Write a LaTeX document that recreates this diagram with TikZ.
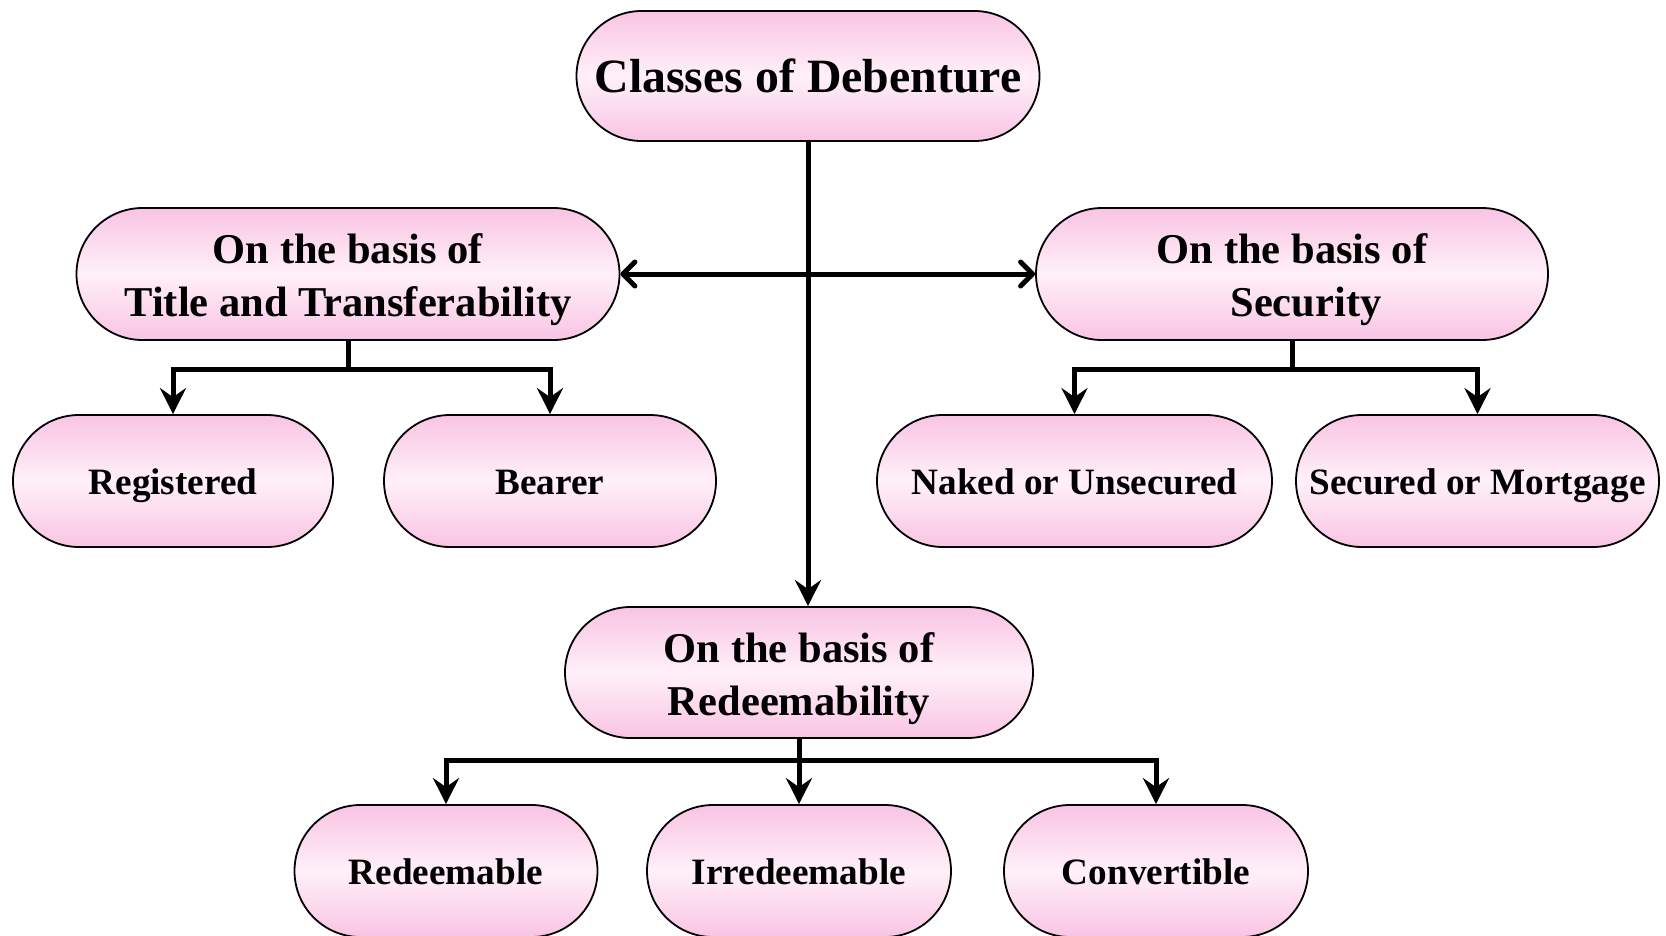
\documentclass[tikz,border=0pt]{standalone}
\usepackage{fontspec}
\setmainfont{Liberation Serif}
\usetikzlibrary{arrows.meta,shapes.misc,calc}
\definecolor{pinkE}{RGB}{249,196,228}
\definecolor{pinkM}{RGB}{255,240,248}
\newcommand{\toppad}{\rule{0pt}{42pt}}
\begin{document}
\begin{tikzpicture}[x=1pt,y=-1pt,
  box/.style={rounded rectangle, draw=black, line width=1.8pt,
    top color=pinkE, bottom color=pinkE, middle color=pinkM,
    inner sep=0pt, align=center, minimum height=132pt},
  lvlA/.style={font=\fontsize{47.8}{58}\selectfont\bfseries},
  lvlB/.style={font=\fontsize{42.5}{53}\selectfont\bfseries},
  lvlC/.style={font=\fontsize{37.2}{46}\selectfont\bfseries, text height=26pt, text depth=0pt},
  conn/.style={line width=5pt, line join=miter},
  dtip/.tip={Stealth[length=26pt,width=26pt,inset=9pt]},
  btip/.tip={Straight Barb[length=12pt,width=24pt,line cap=round,line join=round]}
]
\useasboundingbox (0,0) rectangle (1666,935);
\fill[white] (0,0) rectangle (1666,935);

\node[box,lvlA,minimum width=463pt,minimum height=130pt] (top) at (808,76) {Classes of Debenture};
\node[box,lvlB,minimum width=543pt] (title) at (348,274) {\toppad On the basis of\\Title and Transferability};
\node[box,lvlB,minimum width=512pt] (sec) at (1292,274) {\toppad On the basis of\\\hspace*{28pt}Security};
\node[box,lvlC,minimum width=320pt] (reg) at (173,481) {Registered};
\node[box,lvlC,minimum width=332pt] (bear) at (550,481) {Bearer};
\node[box,lvlC,minimum width=395pt] (nak) at (1074.5,481) {Naked or Unsecured};
\node[box,lvlC,minimum width=363pt] (secm) at (1477.5,481) {Secured or Mortgage};
\node[box,lvlB,minimum width=468pt,minimum height=131pt] (red) at (799,672.5) {\toppad On the basis of\\Redeemability};
\node[box,lvlC,minimum width=303pt] (rdm) at (446,871) {Redeemable};
\node[box,lvlC,minimum width=304pt] (irr) at (799,871) {Irredeemable};
\node[box,lvlC,minimum width=304pt] (cnv) at (1156,871) {Convertible};

% main trunk
\draw[conn,-{dtip}] (top.south) -- (top.south |- red.north);
\draw[conn,{btip}-{btip}] (title.east) -- (sec.west);

% title branch
\coordinate (tj) at ($(title.south)+(0,29)$);
\draw[conn] (title.south) -- (tj);
\draw[conn,{dtip}-{dtip}] (reg.north) -- (reg.north |- tj) -- (bear.north |- tj) -- (bear.north);

% security branch
\coordinate (sj) at ($(sec.south)+(0,29)$);
\draw[conn] (sec.south) -- (sj);
\draw[conn,{dtip}-{dtip}] (nak.north) -- (nak.north |- sj) -- (secm.north |- sj) -- (secm.north);

% redeemability branch
\coordinate (rj) at ($(red.south)+(0,22)$);
\draw[conn,-{dtip}] (red.south) -- (irr.north);
\draw[conn,{dtip}-{dtip}] (rdm.north) -- (rdm.north |- rj) -- (cnv.north |- rj) -- (cnv.north);
\end{tikzpicture}
\end{document}
